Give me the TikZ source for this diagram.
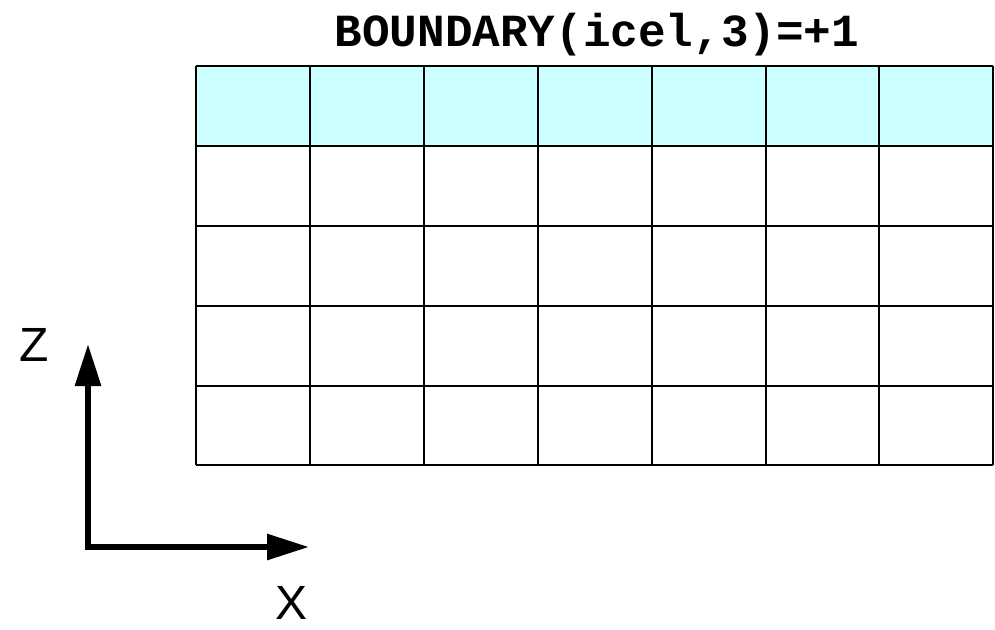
\documentclass[tikz,border=0pt]{standalone}
\usepackage{fontspec}
\setmainfont{Liberation Sans}
\newfontfamily\monob{Liberation Mono}
\usetikzlibrary{arrows.meta}
\definecolor{bcyan}{HTML}{CCFFFF}
\tikzset{
  gridline/.style={line width=2pt, draw=black},
  axisarrow/.style={line width=6pt, -{Triangle[length=42pt,width=25pt]}},
  axlabel/.style={font=\fontsize{48}{48}\selectfont, inner sep=0pt},
  titlelabel/.style={font=\monob\bfseries\fontsize{46}{46}\selectfont, inner sep=0pt}
}
\begin{document}
\begin{tikzpicture}[x=1pt,y=-1pt]
\useasboundingbox (0,0) rectangle (995,629);
% boundary row
\fill[bcyan] (196,66) rectangle (993,146);
% grid
\foreach \yy in {66,146,226,306,386,465} \draw[gridline] (196,\yy) -- (993,\yy);
\foreach \xx in {196,310,424,538,652,766,879,993} \draw[gridline] (\xx,66) -- (\xx,465);
% title
\node[titlelabel] (title) at (597,35) {BOUNDARY(icel,3)=+1};
% axes
\coordinate (origin) at (88,547);
\coordinate (ztip) at (88,344);
\coordinate (xtip) at (309,547);
\draw[axisarrow] ([yshift=3pt]origin) -- (ztip);
\draw[axisarrow] ([xshift=-3pt]origin) -- (xtip);
\node[axlabel] (zlab) at (34,345) {Z};
\node[axlabel] (xlab) at (292,603) {X};
\end{tikzpicture}
\end{document}
